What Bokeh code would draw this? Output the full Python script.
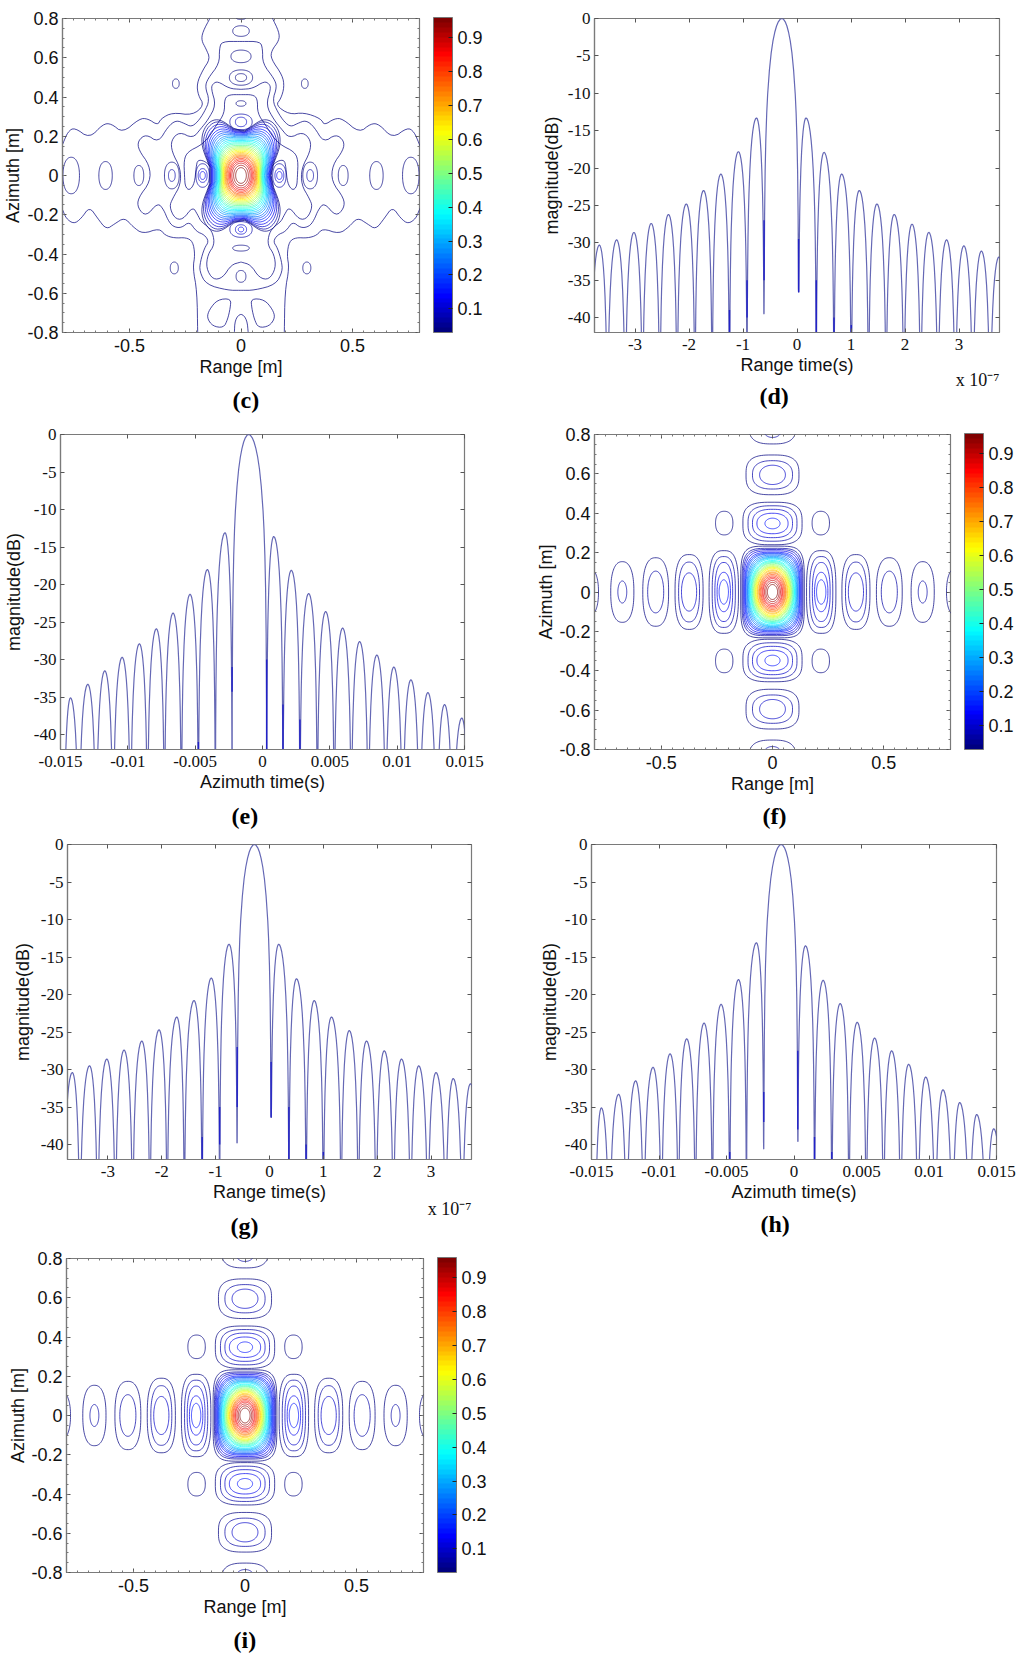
import numpy as np
from bokeh.embed import file_html
from bokeh.layouts import column, row
from bokeh.models import (ColorBar, ColumnDataSource, FixedTicker, LinearAxis,
                          LinearColorMapper, Range1d, Title)
from bokeh.plotting import figure
from bokeh.resources import INLINE

# ---------- line charts: lobe peaks and nulls ----------
d_peak_x = [-3.66,-3.34,-3.02,-2.70,-2.38,-2.05,-1.73,-1.41,-1.085,-0.75,-0.28,0.167,0.50,0.826,1.153,1.48,1.80,2.13,2.44,2.77,3.09,3.415,3.74]
d_peak_y = [-30.3,-29.6,-28.6,-27.4,-26.2,-24.8,-23.0,-20.8,-17.8,-13.3,0,-13.3,-17.9,-20.8,-23.0,-24.8,-26.2,-27.5,-28.6,-29.6,-30.4,-31.1,-31.9]
d_null_x = [-3.83,-3.51,-3.18,-2.86,-2.54,-2.22,-1.89,-1.57,-1.25,-0.925,-0.61,0.03,0.357,0.685,1.005,1.325,1.65,1.98,2.29,2.61,2.93,3.255,3.575,3.90]
d_null_tip = {-0.61: -39.5, 0.03: -36.6}
d_dark_x = [-1.25,-0.925,-0.61,0.03,0.357,0.685,1.005]
d_dark_top = [-39,-35,-27,-29.5,-35,-40,-41]
d_dark_end = [-42,-40,-35,-36.6,-42,-42,-42]

g_peak_x = [-3.66,-3.34,-3.02,-2.70,-2.37,-2.05,-1.72,-1.40,-1.08,-0.75,-0.28,0.17,0.50,0.83,1.15,1.48,1.80,2.13,2.45,2.77,3.09,3.41,3.73]
g_peak_y = [-30.4,-29.5,-28.6,-27.4,-26.2,-24.7,-23.0,-20.8,-17.8,-13.3,0,-13.3,-17.9,-20.8,-23.0,-24.8,-26.2,-27.5,-28.6,-29.5,-30.4,-31.2,-31.9]
g_null_x = [-3.83,-3.52,-3.19,-2.86,-2.54,-2.22,-1.90,-1.58,-1.25,-0.925,-0.60,0.03,0.36,0.68,1.00,1.33,1.65,1.98,2.30,2.62,2.94,3.27,3.58,3.90]
g_null_tip = {-0.60: -39.8, 0.03: -36.4}
g_dark_x = [-1.25,-0.925,-0.60,0.03,0.36,0.68,1.00]
g_dark_top = [-39,-35,-27,-29,-35,-40,-41]
g_dark_end = [-42,-40,-35,-36.4,-42,-42,-42]

e_peak_x = [-14.26,-12.97,-11.71,-10.42,-9.14,-7.88,-6.64,-5.38,-4.09,-2.78,-1.03,0.83,2.14,3.43,4.69,5.95,7.21,8.49,9.75,11.02,12.28,13.52,14.80]
e_peak_y = [-35.1,-33.3,-31.5,-29.7,-27.9,-25.9,-23.8,-21.3,-18.0,-13.1,0,-13.6,-18.1,-21.2,-23.6,-25.8,-27.6,-29.4,-31.0,-32.7,-34.4,-36.0,-37.8]
e_null_x = [-14.75,-13.64,-12.35,-11.09,-9.80,-8.54,-7.28,-6.02,-4.76,-3.50,-2.26,0.31,1.52,2.78,4.07,5.33,6.59,7.85,9.14,10.40,11.66,12.92,14.13,15.37]
e_null_tip = {}
e_dark_x = [-4.76,-2.26,0.31,1.52,2.78]
e_dark_top = [-41,-31,-30,-36,-38]
e_dark_end = [-42,-34.3,-42,-42,-42]

h_peak_x = [-14.27,-12.99,-11.73,-10.44,-9.18,-7.95,-6.66,-5.40,-4.11,-2.78,-0.95,0.85,2.16,3.42,4.68,5.97,7.23,8.49,9.75,11.03,12.27,13.53,14.79]
h_peak_y = [-35.1,-33.3,-31.5,-29.7,-27.9,-25.9,-23.8,-21.3,-18.0,-13.1,0,-13.5,-18.1,-21.2,-23.7,-25.8,-27.5,-29.3,-31.0,-32.7,-34.4,-36.0,-37.9]
h_null_x = [-14.74,-13.68,-12.39,-11.13,-9.82,-8.56,-7.30,-6.04,-4.76,-3.52,-2.24,0.28,1.52,2.80,4.07,5.35,6.63,7.90,9.18,10.46,11.73,12.99,14.25,15.50]
h_null_tip = {-2.24: -40.6, 0.28: -39.6}
h_dark_x = [-4.76,-2.24,0.28,1.52,2.80]
h_dark_top = [-41,-33,-27.5,-39,-41]
h_dark_end = [-42,-37,-38,-42,-42]

# Arch of one lobe as measured: fraction of the way peak -> null, and drop below the peak in dB
arch_frac = [0,0.1,0.2,0.3,0.4,0.5,0.6,0.7,0.8,0.85,0.9,0.94,0.97,0.99,1.0]
arch_drop = [0,-0.11,-0.44,-1.0,-1.84,-3.0,-4.6,-6.9,-10.2,-12.6,-16.1,-20.5,-26.5,-36.1,-70]

range_ticks = [-3,-2,-1,0,1,2,3]
azimuth_ticks = [-15,-10,-5,0,5,10,15]
azimuth_labels = ["-0.015","-0.01","-0.005","0","0.005","0.01","0.015"]
db_ticks = [0,-5,-10,-15,-20,-25,-30,-35,-40]

# ---------- contour maps ----------
cb_ticks = [0.1,0.2,0.3,0.4,0.5,0.6,0.7,0.8,0.9]
xy_ticks = [-0.8,-0.6,-0.4,-0.2,0,0.2,0.4,0.6,0.8]
x_ticks = [-0.5,0,0.5]

# panels f / i : main lobe
fi_level = [0.96,0.93,0.90,0.87,0.84,0.81,0.78,0.75,0.72,0.69,0.66,0.63,0.60,0.57,0.54,0.51,0.48,0.45,0.42,0.39,0.36,0.33,0.30,0.27,0.24,0.21,0.18,0.15,0.12,0.09,0.06,0.03]
fi_hw = [.023,.030,.036,.042,.046,.051,.055,.059,.062,.067,.070,.074,.077,.080,.083,.086,.090,.093,.096,.099,.103,.106,.109,.112,.115,.119,.122,.125,.129,.133,.137,.143]
fi_hh = [.038,.049,.059,.068,.075,.082,.089,.096,.101,.108,.113,.120,.125,.129,.134,.140,.146,.150,.155,.160,.167,.172,.176,.181,.187,.193,.197,.202,.209,.216,.222,.233]
fi_sq = [2,2,2,2,2,2,2,2,2,2,2,2,2.05,2.05,2.1,2.1,2.15,2.2,2.25,2.3,2.4,2.5,2.6,2.75,2.9,3.1,3.3,3.5,3.8,4.1,4.5,5.0]
# panels f / i : side lobes (centre, half sizes, level, squareness)
fi_xlobe_cx = [.219,.219,.219,.219,.219,.375,.375,.375,.525,.525,.675,.675,.82]
fi_xlobe_hw = [.066,.052,.040,.030,.021,.063,.047,.034,.058,.036,.052,.020,.038]
fi_xlobe_hh = [.210,.180,.150,.100,.062,.190,.152,.097,.174,.106,.154,.056,.118]
fi_xlobe_lv = [.03,.06,.09,.12,.15,.03,.06,.09,.03,.06,.03,.06,.03]
fi_xlobe_sq = [3.0,2.7,2.4,2.2,2.0,2.7,2.4,2.1,2.5,2.1,2.4,2.0,2.2]
fi_ylobe_cy = [.348,.348,.348,.348,.348,.595,.595,.595,.84,.84]
fi_ylobe_hw = [.133,.110,.090,.070,.034,.119,.090,.058,.105,.045]
fi_ylobe_hh = [.108,.090,.072,.052,.027,.101,.072,.049,.088,.055]
fi_ylobe_lv = [.03,.06,.09,.12,.15,.03,.06,.09,.03,.06]
fi_ylobe_sq = [3.2,2.9,2.6,2.3,2.0,3.0,2.5,2.1,2.8,2.2]
fi_corner_x, fi_corner_y, fi_corner_hw, fi_corner_hh = .217, .350, .039, .060

# panel c : main lobe (clover shaped at low levels)
c_level = fi_level
c_wc = [.024,.033,.041,.047,.052,.057,.062,.066,.070,.074,.078,.082,.085,.089,.092,.096,.100,.104,.108,.112,.118,.123,.128,.134,.140,.146,.153,.160,.168,.176,.185,.194]
c_hc = [.040,.052,.063,.072,.080,.087,.094,.100,.106,.112,.118,.124,.130,.136,.142,.149,.156,.163,.170,.178,.186,.194,.203,.212,.222,.232,.243,.255,.270,.285,.300,.313]
c_w  = [.024,.033,.041,.047,.052,.057,.062,.066,.070,.073,.076,.079,.081,.084,.086,.089,.091,.094,.096,.099,.102,.105,.108,.112,.115,.118,.122,.125,.128,.130,.133,.135]
c_h  = [.040,.052,.063,.072,.080,.087,.094,.100,.105,.111,.117,.123,.129,.135,.141,.147,.153,.160,.166,.172,.178,.184,.190,.195,.200,.204,.208,.213,.216,.219,.222,.225]
c_sq = [2,2,2,2,2,2,2.1,2.1,2.2,2.2,2.3,2.4,2.5,2.6,2.7,2.8,2.9,3,3,3.1,3.1,3.2,3.2,3.2,3.3,3.3,3.3,3.3,3.3,3.3,3.3,3.3]
# panel c : traced outer contours, right half; the left half mirrors them
c_Aur_x = [.137,.171,.171,.137,.134,.186,.194,.179,.156,.216,.283,.358,.373,.418,.455,.530,.582,.619,.679,.746,.776,.798,.81]
c_Aur_y = [.81,.731,.688,.637,.595,.510,.451,.392,.358,.311,.321,.290,.256,.290,.290,.217,.265,.262,.189,.245,.223,.163,.13]
c_Aul_x = [-.135,-.172,-.177,-.157,-.138,-.172,-.198,-.192,-.165,-.217,-.307,-.359,-.373,-.418,-.455,-.530,-.582,-.619,-.679,-.746,-.776,-.798,-.81]
c_Aul_y = [.81,.731,.688,.646,.595,.536,.468,.409,.358,.307,.321,.290,.256,.290,.290,.217,.265,.262,.189,.245,.223,.163,.13]
c_Alr_x = [.194,.197,.216,.206,.216,.246,.298,.340,.366,.440,.485,.522,.567,.604,.642,.679,.716,.749,.784,.80,.81]
c_Alr_y = [-.81,-.590,-.472,-.404,-.336,-.316,-.319,-.305,-.269,-.298,-.261,-.214,-.247,-.275,-.219,-.159,-.219,-.247,-.219,-.173,-.15]
c_B_x = [0,.086,.097,.097,.149,.161,.141,.164,.194,.223,.253,.291,.328,.370,.425,.462,.459,.410,.406,.462,.462,.425,.373,.346,.328,.306,.268,.231,.201,.164,.144,.164,.182,.186,.156,.059,0]
c_B_y = [.683,.683,.646,.570,.493,.451,.383,.324,.273,.248,.265,.282,.248,.168,.211,.177,.130,.053,-.031,-.116,-.167,-.209,-.138,-.175,-.226,-.260,-.268,-.234,-.285,-.302,-.336,-.370,-.438,-.488,-.556,-.585,-.585]
c_C_x = [0,.052,.104,.126,.134,.112,.149,.179,.216,.276,.313,.310,.271,.271,.306,.321,.298,.261,.216,.194,.179,.149,.126,.119,.149,.156,.126,.082,.044,0]
c_C_y = [.439,.443,.480,.468,.443,.358,.282,.240,.189,.223,.180,.121,.036,-.048,-.116,-.158,-.218,-.226,-.158,-.201,-.235,-.260,-.294,-.353,-.403,-.472,-.531,-.522,-.455,-.441]
c_E_x = [0,.052,.074,.074,.111,.143,.179,.239,.256,.253,.250,.231,.208,.201,.194,.165,.14]
c_E_y = [.412,.412,.392,.316,.256,.196,.155,.121,.079,-.006,-.057,-.077,-.040,.045,.079,.075,.05]
c_lobeL_x = [-.045,-.105,-.142,-.153,-.127,-.078,-.060,-.048]
c_lobeL_y = [-.627,-.632,-.683,-.725,-.768,-.776,-.734,-.675]
c_arch_x = [-.030,-.027,0,.027,.033]
c_arch_y = [-.81,-.734,-.700,-.734,-.81]
# panel c : closed loops (centre, half sizes, level)
c_loop_cx = [0,0,0,0,0,0,0,0,0,.286,-.292,.295,-.299,.310,.310,.458,.607,.761,.172,.172,.172,0,0,0,-.172,-.172,-.172,-.31,-.31,-.458,-.607,-.761,0]
c_loop_cy = [.367,.499,.499,.607,.736,-.370,-.514,.273,.273,.468,.468,-.471,-.471,0,0,0,0,0,0,0,0,-.275,-.275,-.275,0,0,0,0,0,0,0,0,.805]
c_loop_hw = [.022,.052,.025,.045,.037,.037,.022,.025,.050,.015,.015,.018,.018,.033,.015,.022,.030,.037,.030,.020,.012,.050,.025,.012,.030,.020,.012,.033,.015,.022,.030,.037,.022]
c_loop_hh = [.014,.039,.020,.032,.027,.015,.030,.024,.040,.024,.024,.030,.030,.068,.030,.051,.071,.093,.060,.035,.020,.040,.024,.012,.060,.035,.020,.068,.030,.051,.071,.093,.010]
c_loop_lv = [.03,.03,.03,.03,.03,.03,.03,.09,.06,.03,.03,.03,.03,.03,.06,.03,.03,.03,.06,.09,.12,.06,.09,.12,.06,.09,.12,.03,.06,.03,.03,.03,.03]

# ---------- look ----------
SANS = "Liberation Sans"
SERIF = "Liberation Serif"
FRAME = "#7a7a7a"
LINE = "#4a4ea8"
anch_t = [0, .11, .375, .64, .89, 1]
jet = ["#%02x%02x%02x" % tuple(int(round(255*np.interp(t, anch_t, c))) for c in
        ([0,0,0,1,1,.5],[0,0,1,1,0,0],[.5,1,1,0,0,0])) for t in np.linspace(0, 1, 64)]
mapper = LinearColorMapper(palette=jet, low=0.03, high=0.96)


def chaikin(x, y, closed=False, rounds=2):
    x, y = list(x), list(y)
    for _ in range(rounds):
        nx, ny = ([] if closed else [x[0]]), ([] if closed else [y[0]])
        n = len(x)
        for i in range(n if closed else n-1):
            j = (i+1) % n
            nx += [.75*x[i]+.25*x[j], .25*x[i]+.75*x[j]]
            ny += [.75*y[i]+.25*y[j], .25*y[i]+.75*y[j]]
        if not closed:
            nx.append(x[-1]); ny.append(y[-1])
        x, y = nx, ny
    if closed:
        x, y = x+[x[0]], y+[y[0]]
    return x, y


def superloop(cx, cy, wc, hc, sq=2.0, w=None, h=None, n=90):
    t = np.linspace(0, 2*np.pi, n)
    c, s = np.cos(t), np.sin(t)
    x = wc*np.sign(c)*np.abs(c)**(2/sq)
    y = hc*np.sign(s)*np.abs(s)**(2/sq)
    if w is not None:
        x2 = x*(1-(1-w/wc)*np.exp(-(y/(.42*hc))**2))
        y2 = y*(1-(1-h/hc)*np.exp(-(x/(.42*wc))**2))
        x, y = x2, y2
    return list(cx+x), list(cy+y)


def base(L, R, T, B, W, H, xr, yr):
    p = figure(width=L+W+R, height=T+H+B, x_range=Range1d(*xr), y_range=Range1d(*yr),
               output_backend="svg", toolbar_location=None, x_axis_location=None, y_axis_location=None,
               min_border_left=L, min_border_right=R, min_border_top=T, min_border_bottom=B,
               background_fill_color="white", border_fill_color="white")
    p.grid.visible = False
    p.outline_line_color = FRAME
    p.outline_line_width = 1.2
    return p


def add_axes(p, xt, xm, yt, ym, xlabel, ylabel, tick_font, xlabs, ystand):
    for side, t, m, lab in (("below", xt, xm, xlabel), ("left", yt, ym, ylabel)):
        ax = LinearAxis(ticker=FixedTicker(ticks=t, minor_ticks=m), axis_label=lab,
                        axis_line_color=FRAME, axis_line_width=1.2,
                        major_tick_in=4, major_tick_out=0, minor_tick_in=2, minor_tick_out=0,
                        major_tick_line_color="#555555", minor_tick_line_color="#777777",
                        major_label_text_font=tick_font, major_label_text_font_size="18px" if tick_font == SANS else "17px",
                        major_label_text_color="#111111", major_label_standoff=6 if side == "below" else 4,
                        axis_label_text_font=SANS, axis_label_text_font_size="18px",
                        axis_label_text_font_style="normal", axis_label_text_color="#111111",
                        axis_label_standoff=2 if side == "below" else ystand)
        if side == "below" and xlabs:
            ax.major_label_overrides = dict(zip(t, xlabs))
        else:
            ax.major_label_overrides = {v: f"{v:g}" for v in t}
        p.add_layout(ax, side)
    for side, t, m in (("above", xt, xm), ("right", yt, ym)):
        ax = LinearAxis(ticker=FixedTicker(ticks=t, minor_ticks=m), axis_line_color=None,
                        major_tick_in=4, major_tick_out=0, minor_tick_in=2, minor_tick_out=0,
                        major_tick_line_color="#555555", minor_tick_line_color="#777777",
                        major_label_overrides={v: "" for v in t},
                        major_label_text_font_size="1px", major_label_standoff=0)
        p.add_layout(ax, side)


def caption(p, text, offset, standoff, exp_standoff=None):
    if exp_standoff is not None:
        p.add_layout(Title(text="x 10\u207b\u2077", align="right", offset=0, standoff=exp_standoff,
                           text_font=SERIF, text_font_size="18px", text_font_style="normal",
                           text_color="#111111"), "below")
    p.add_layout(Title(text=text, align="left", offset=offset, standoff=standoff,
                       text_font=SERIF, text_font_size="24px", text_font_style="bold",
                       text_color="black"), "below")


def line_panel(L, R, T, B, W, H, xr, peak_x, peak_y, null_x, tips, dark, xt, xlabel, xlabs, cap, off, standoff, ystand, expo=None):
    p = base(L, R, T, B, W, H, xr, (-42, 0))
    xs, ys = [], []
    for i, (px_, py_) in enumerate(zip(peak_x, peak_y)):
        a, b = null_x[i], null_x[i+1]
        floor_a, floor_b = tips.get(a, -70), tips.get(b, -70)
        for f, d in reversed(list(zip(arch_frac, arch_drop))):
            xs.append(px_-f*(px_-a)); ys.append(max(py_+d, floor_a))
        for f, d in list(zip(arch_frac, arch_drop))[1:]:
            xs.append(px_+f*(b-px_)); ys.append(max(py_+d, floor_b))
    p.line(xs, ys, line_color=LINE, line_width=1.2, line_alpha=0.85)
    p.segment(x0=dark[0], y0=dark[1], x1=dark[0], y1=dark[2], line_color="#2222c8", line_width=1.4)
    add_axes(p, xt, [], db_ticks, [], xlabel, "magnitude(dB)", SERIF, xlabs, ystand)
    caption(p, cap, off, standoff, expo)
    return p


def contour_panel(L, R, T, B, W, H, cap, off, standoff, ystand, loops_fn):
    p = base(L, R, T, B, W, H, (-0.8, 0.8), (-0.8, 0.8))
    X, Y, V = loops_fn()
    src = ColumnDataSource(dict(x=X, y=Y, level=V))
    p.multi_line("x", "y", source=src, line_width=0.9, line_alpha=0.8,
                 line_color={"field": "level", "transform": mapper})
    xm = [round(-0.8+0.05*i, 2) for i in range(33)]
    ym = [round(-0.8+0.05*i, 2) for i in range(33)]
    add_axes(p, x_ticks, xm, xy_ticks, ym, "Range [m]", "Azimuth [m]", SANS, None, ystand)
    cb = ColorBar(color_mapper=mapper, ticker=FixedTicker(ticks=cb_ticks), width=19, height=H,
                  padding=0, margin=0, location=(14, 0),
                  major_label_text_font=SANS, major_label_text_font_size="18px",
                  major_label_text_color="#111111", label_standoff=5,
                  major_tick_line_color="#222222", major_tick_in=4, minor_tick_line_color=None,
                  bar_line_color="#777777", border_line_color=None, background_fill_color=None)
    p.add_layout(cb, "right")
    caption(p, cap, off, standoff)
    return p


def fi_loops():
    X, Y, V = [], [], []
    def add(x, y, v):
        X.append(x); Y.append(y); V.append(v)
    for v, w, h, s in zip(fi_level, fi_hw, fi_hh, fi_sq):
        add(*superloop(0, 0, w, h, s), v)
    for cx, w, h, v, s in zip(fi_xlobe_cx, fi_xlobe_hw, fi_xlobe_hh, fi_xlobe_lv, fi_xlobe_sq):
        for sg in (1, -1):
            add(*superloop(sg*cx, 0, w, h, s), v)
    for cy, w, h, v, s in zip(fi_ylobe_cy, fi_ylobe_hw, fi_ylobe_hh, fi_ylobe_lv, fi_ylobe_sq):
        for sg in (1, -1):
            add(*superloop(0, sg*cy, w, h, s), v)
    for a in (1, -1):
        for b in (1, -1):
            add(*superloop(a*fi_corner_x, b*fi_corner_y, fi_corner_hw, fi_corner_hh, 2.3), .03)
    return X, Y, V


def c_loops():
    X, Y, V = [], [], []
    def add(x, y, v):
        X.append(x); Y.append(y); V.append(v)
    for v, wc, hc, w, h, s in zip(c_level, c_wc, c_hc, c_w, c_h, c_sq):
        add(*superloop(0, 0, wc, hc, s, w, h), v)
    for cx, cy, w, h, v in zip(c_loop_cx, c_loop_cy, c_loop_hw, c_loop_hh, c_loop_lv):
        add(*superloop(cx, cy, w, h, 2.2), v)
    add(*chaikin(c_Aur_x, c_Aur_y), .03)
    add(*chaikin(c_Aul_x, c_Aul_y), .03)
    add(*chaikin(c_Alr_x, c_Alr_y), .03)
    add(*chaikin([-v for v in c_Alr_x], c_Alr_y), .03)
    for xs, ys in ((c_B_x, c_B_y), (c_C_x, c_C_y), (c_E_x, c_E_y)):
        add(*chaikin(xs, ys), .03)
        add(*chaikin([-v for v in xs], ys), .03)
    add(*chaikin(c_lobeL_x, c_lobeL_y, closed=True), .03)
    add(*chaikin([-v for v in c_lobeL_x], c_lobeL_y, closed=True), .03)
    add(*chaikin(c_arch_x, c_arch_y), .03)
    return X, Y, V


# Rendered pages here start at the very corner, so the 8px offset is part of the first row and column.
pc = contour_panel(62, 93, 18, 91, 357, 315, "(c)", 170, 10, 1, c_loops)
pd = line_panel(82, 17, 16, 92, 405, 316, (-3.75, 3.75), d_peak_x, d_peak_y, d_null_x, d_null_tip,
                (d_dark_x, d_dark_top, d_dark_end), range_ticks, "Range time(s)", None, "(d)", 165, 7, 3, -24)
pe = line_panel(60, 48, 9, 87, 404, 316, (-15, 15), e_peak_x, e_peak_y, e_null_x, e_null_tip,
                (e_dark_x, e_dark_top, e_dark_end), azimuth_ticks, "Azimuth time(s)", azimuth_labels, "(e)", 171, 13, 7)
pf = contour_panel(82, 65, 10, 86, 357, 316, "(f)", 168, 9, 0, fi_loops)
pg = line_panel(67, 41, 8, 89, 404, 315, (-3.75, 3.75), g_peak_x, g_peak_y, g_null_x, g_null_tip,
                (g_dark_x, g_dark_top, g_dark_end), range_ticks, "Range time(s)", None, "(g)", 163, 13, 5, -28)
ph = line_panel(79, 20, 8, 88, 405, 316, (-15, 15), h_peak_x, h_peak_y, h_null_x, h_null_tip,
                (h_dark_x, h_dark_top, h_dark_end), azimuth_ticks, "Azimuth time(s)", azimuth_labels, "(h)", 169, 9, 2)
pi = contour_panel(66, 89, 10, 84, 357, 315, "(i)", 167, 10, 0, fi_loops)

page = column(row(pc, pd), row(pe, pf), row(pg, ph), row(pi), spacing=0)
open("out.html", "w").write(file_html(page, INLINE))
